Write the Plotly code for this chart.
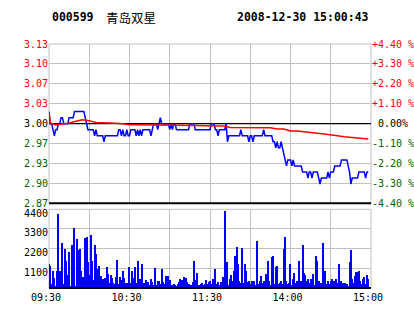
import plotly.graph_objects as go

# ---------------- data ----------------
stock_code = "000599"
stock_name = "青岛双星"
stamp = "2008-12-30 15:00:43"
prev_close = 3.00

# minute index 0 = 09:30, 120 = 11:30/13:00, 240 = 15:00
price = [
    3.02, 3.00, 3.00, 2.99, 2.98, 2.99, 2.99, 3.00, 3.00, 3.01,
    3.01, 3.00, 3.00, 3.00, 3.00, 3.01, 3.01, 3.01, 3.01, 3.02,
    3.02, 3.02, 3.02, 3.02, 3.02, 3.02, 3.02, 3.01, 3.00, 2.99,
    2.99, 2.99, 2.99, 2.99, 2.98, 2.99, 2.98, 2.98, 2.98, 2.98,
    2.98, 2.97, 2.98, 2.98, 2.98, 2.98, 2.98, 2.98, 2.98, 2.98,
    2.98, 2.98, 2.99, 2.99, 2.98, 2.99, 2.98, 2.98, 2.99, 2.98,
    2.98, 2.99, 2.99, 2.99, 2.99, 2.98, 2.99, 2.98, 2.99, 2.98,
    2.99, 2.99, 2.99, 2.99, 2.99, 2.99, 2.98, 2.99, 3.00, 3.00,
    3.00, 2.99, 3.00, 3.01, 3.00, 3.00, 3.00, 3.00, 3.00, 3.00,
    2.99, 3.00, 2.99, 3.00, 3.00, 2.99, 2.99, 2.99, 2.99, 2.99,
    2.99, 2.99, 2.99, 2.99, 2.99, 3.00, 3.00, 3.00, 3.00, 2.99,
    2.99, 2.99, 2.99, 2.99, 2.99, 2.99, 2.99, 2.99, 2.99, 2.99,
    2.99, 3.00, 3.00, 3.00, 2.99, 2.99, 2.98, 2.99, 2.99, 2.99,
    2.99, 2.99, 3.00, 2.97, 2.98, 2.98, 2.98, 2.98, 2.98, 2.98,
    2.98, 2.98, 2.98, 2.99, 2.98, 2.98, 2.98, 2.98, 2.98, 2.97,
    2.98, 2.98, 2.97, 2.98, 2.98, 2.98, 2.98, 2.98, 2.98, 2.98,
    2.99, 2.98, 2.98, 2.98, 2.98, 2.98, 2.98, 2.97, 2.97, 2.96,
    2.97, 2.96, 2.96, 2.97, 2.96, 2.95, 2.94, 2.93, 2.94, 2.94,
    2.94, 2.93, 2.94, 2.93, 2.93, 2.93, 2.93, 2.93, 2.93, 2.92,
    2.92, 2.92, 2.92, 2.91, 2.92, 2.92, 2.91, 2.92, 2.92, 2.92,
    2.92, 2.91, 2.90, 2.91, 2.91, 2.91, 2.91, 2.91, 2.92, 2.91,
    2.92, 2.92, 2.92, 2.93, 2.93, 2.93, 2.93, 2.93, 2.94, 2.94,
    2.94, 2.94, 2.94, 2.93, 2.92, 2.90, 2.91, 2.91, 2.91, 2.91,
    2.91, 2.92, 2.92, 2.92, 2.92, 2.92, 2.91, 2.92, 2.92,
]

volume = [
    1300, 1190, 180, 960, 560, 100, 920, 4140, 960, 90,
    2520, 180, 2190, 1520, 690, 1970, 90, 2410, 1075, 3360,
    90, 2750, 2080, 2190, 910, 575, 410, 2800, 2860, 1410,
    690, 2970, 1465, 410, 2410, 1910, 1020, 1190, 150, 630,
    460, 90, 520, 1130, 740, 240, 690, 520, 240, 180,
    575, 1575, 180, 575, 410, 910, 520, 240, 240, 100,
    1130, 240, 910, 520, 1130, 240, 1465, 460, 460, 1300,
    150, 240, 410, 300, 300, 150, 460, 300, 150, 1075,
    150, 350, 350, 180, 1020, 300, 180, 630, 300, 630,
    410, 150, 150, 180, 150, 100, 180, 300, 460, 410,
    150, 575, 520, 300, 180, 150, 150, 300, 1465, 410,
    800, 150, 150, 180, 240, 150, 180, 410, 180, 310,
    350, 180, 460, 240, 1020, 180, 310, 130, 310, 180,
    575, 4300, 130, 1430, 130, 460, 690, 350, 960, 1800,
    2300, 1350, 400, 240, 2245, 240, 1350, 910, 310, 350,
    180, 350, 180, 350, 130, 2635, 180, 400, 630, 240,
    350, 130, 740, 1465, 350, 130, 1690, 1800, 180, 1130,
    1240, 180, 240, 350, 180, 2190, 2860, 350, 180, 240,
    1300, 130, 460, 800, 240, 350, 1465, 180, 350, 2410,
    800, 690, 400, 510, 240, 460, 350, 740, 130, 1800,
    1465, 350, 180, 240, 2520, 460, 960, 180, 400, 180,
    350, 460, 350, 400, 460, 240, 1300, 350, 350, 240,
    180, 240, 180, 100, 1410, 2135, 460, 240, 630, 850,
    850, 910, 350, 180, 510, 575, 180, 690, 510,
]

avg_minute = [0, 1, 5, 10, 15, 20, 25, 30, 35, 40, 45, 50, 55, 60, 65, 70, 75, 80,
              85, 90, 95, 100, 105, 110, 115, 120, 125, 130, 135, 140, 145, 150,
              155, 160, 165, 170, 175, 180, 185, 190, 195, 200, 205, 210, 215,
              220, 225, 230, 235, 238]
avg_price = [3.018, 3.001, 2.998, 2.999, 3.001, 3.004, 3.0065, 3.005, 3.002, 3.0015,
             3.0005, 3.0005, 3.000, 2.998, 2.998, 2.998, 2.998, 2.998, 2.998, 2.998,
             2.998, 2.998, 2.9975, 2.997, 2.9967, 2.9965, 2.9963, 2.996, 2.9935,
             2.9933, 2.9933, 2.9933, 2.9933, 2.9933, 2.9933, 2.991, 2.991, 2.988,
             2.988, 2.9865, 2.9858, 2.984, 2.983, 2.981, 2.980, 2.9783, 2.9775,
             2.9765, 2.9748, 2.9745]

pct_steps = [4.4, 3.3, 2.2, 1.1, 0.0, -1.1, -2.2, -3.3, -4.4]
price_labels = ["3.13", "3.10", "3.07", "3.03", "3.00", "2.97", "2.93", "2.90", "2.87"]
pct_labels = ["+4.40 %", "+3.30 %", "+2.20 %", "+1.10 %", "\u00a00.00%",
              "-1.10 %", "-2.20 %", "-3.30 %", "-4.40 %"]
vol_ticks = [1100, 2200, 3300, 4400]
vol_labels = ["1100", "2200", "3300", "4400"]
time_ticks = [0, 30, 60, 90, 120, 150, 180, 210, 240]
time_labels = ["09:30", "", "10:30", "", "11:30", "", "14:00", "", "15:00"]
session_span = [0, 240]

# ---------------- figure ----------------
RED = "#ff0000"
GREEN = "#006400"
GRID = "#c0c0c0"
MONO = "DejaVu Sans Mono, Liberation Mono, monospace"

minutes = list(range(len(price)))
price_ticks = [prev_close * (1 + p / 100) for p in pct_steps]


def colour(p):
    return RED if p > 0 else (GREEN if p < 0 else "#000000")


left_text = [f'<span style="color:{colour(p)}">{t}</span>' for p, t in zip(pct_steps, price_labels)]
right_text = [f'<span style="color:{colour(p)}">{t}</span>' for p, t in zip(pct_steps, pct_labels)]

fig = go.Figure()
fig.add_trace(go.Bar(x=minutes, y=volume, xaxis="x2", yaxis="y2",
                     marker=dict(color="#0000ff", line=dict(width=0)), width=0.8))
# previous close reference line
fig.add_trace(go.Scatter(x=session_span, y=[prev_close, prev_close], mode="lines",
                         xaxis="x", yaxis="y", line=dict(color="black", width=1.2),
                         hoverinfo="skip"))
fig.add_trace(go.Scatter(x=minutes, y=price, mode="lines", xaxis="x", yaxis="y",
                         line=dict(color="#0000ff", width=1.5)))
fig.add_trace(go.Scatter(x=avg_minute, y=avg_price, mode="lines", xaxis="x", yaxis="y",
                         line=dict(color=RED, width=1.5)))
# invisible trace for right-hand percent axis
fig.add_trace(go.Scatter(x=[0], y=[prev_close], mode="markers", xaxis="x", yaxis="y3",
                         marker=dict(opacity=0), hoverinfo="skip"))

pmin, pmax = price_ticks[-1], price_ticks[0]
axis_common = dict(showline=False, zeroline=False, ticks="", fixedrange=True, automargin=False)

fig.update_layout(
    width=414, height=314,
    margin=dict(l=49, r=43, t=44, b=26, pad=0, autoexpand=False),
    paper_bgcolor="white", plot_bgcolor="white",
    showlegend=False, bargap=0,
    font=dict(family=MONO, size=10, color="black"),
    xaxis=dict(domain=[0, 1], anchor="y", range=[0, 240], tickvals=time_ticks,
               showticklabels=False, showgrid=True, gridcolor=GRID, gridwidth=1, **axis_common),
    yaxis=dict(domain=[0.347, 1], anchor="x", range=[pmin, pmax], tickvals=price_ticks,
               ticktext=left_text, showgrid=True, gridcolor=GRID, gridwidth=1,
               tickfont=dict(family=MONO, size=10), **axis_common),
    yaxis3=dict(overlaying="y", anchor="x", side="right", range=[pmin, pmax],
                tickvals=price_ticks, ticktext=right_text, showgrid=False,
                tickfont=dict(family=MONO, size=10), **axis_common),
    xaxis2=dict(domain=[0, 1], anchor="y2", range=[0, 240], tickvals=time_ticks,
                ticktext=time_labels, showgrid=True, gridcolor=GRID, gridwidth=1,
                ticklabelshift=-3, ticklabelstandoff=2,
                tickfont=dict(family=MONO, size=10), **axis_common),
    yaxis2=dict(domain=[0, 0.3225], anchor="x2", range=[0, 4400], tickvals=vol_ticks,
                ticktext=vol_labels, showgrid=True, gridcolor=GRID, gridwidth=1,
                ticklabelshift=4,
                tickfont=dict(family=MONO, size=10), **axis_common),
)

shapes = [
    # price panel frame
    dict(type="rect", xref="paper", yref="paper", x0=0, x1=1, y0=0.347, y1=1,
         line=dict(color=GRID, width=1), layer="below"),
    # bottom black line of price panel
    dict(type="line", xref="paper", yref="paper", x0=0, x1=1, y0=0.347, y1=0.347,
         line=dict(color="black", width=2), layer="above"),
    # volume panel frame
    dict(type="rect", xref="paper", yref="paper", x0=0, x1=1, y0=0, y1=0.3225,
         line=dict(color=GRID, width=1), layer="below"),
    dict(type="line", xref="paper", yref="paper", x0=0, x1=1, y0=0, y1=0,
         line=dict(color="black", width=2), layer="above"),
]
fig.update_layout(shapes=shapes)

title_y = (314 - 26 - 17) / 244
fig.add_annotation(text=f"<b>{stock_code}</b>", xref="paper", yref="paper",
                   x=(50 - 49) / 322, y=title_y, xanchor="left", yanchor="middle",
                   showarrow=False, font=dict(family=MONO, size=11.5, color="black"))
fig.add_annotation(text=stock_name, xref="paper", yref="paper",
                   x=(104 - 49) / 322, y=title_y, xanchor="left", yanchor="middle",
                   showarrow=False, font=dict(family="Noto Sans CJK SC", size=12.5, color="black"))
fig.add_annotation(text=f"<b>{stamp}</b>", xref="paper", yref="paper",
                   x=(371 - 49) / 322, y=title_y, xanchor="right", yanchor="middle",
                   showarrow=False, font=dict(family=MONO, size=11.5, color="black"))

fig.write_html("out.html")
